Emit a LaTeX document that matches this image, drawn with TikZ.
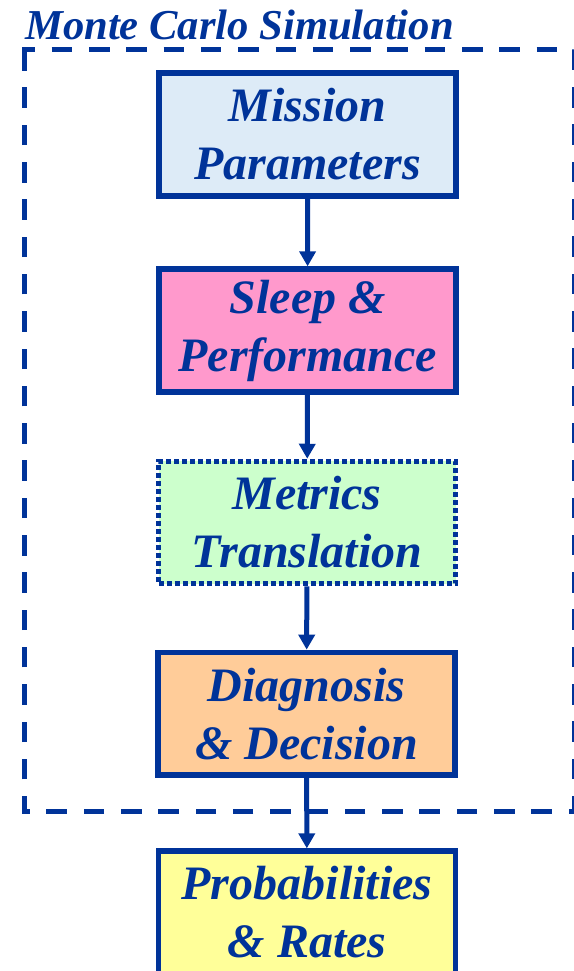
\documentclass[tikz,border=0pt]{standalone}
\usepackage{fontspec}
\setmainfont{Liberation Serif}
\usetikzlibrary{arrows.meta}
\definecolor{dblue}{RGB}{0,51,153}
\definecolor{fblue}{RGB}{221,235,247}
\definecolor{fpink}{RGB}{255,153,204}
\definecolor{fgreen}{RGB}{204,255,204}
\definecolor{forange}{RGB}{255,204,153}
\definecolor{fyellow}{RGB}{255,255,153}
\begin{document}
\begin{tikzpicture}[x=1pt,y=-1pt,
  stepbox/.style={draw=dblue, line width=5.8pt, minimum width=297pt, minimum height=122.5pt,
    inner sep=0pt, align=center, text=dblue,
    font=\fontsize{48}{58}\selectfont\bfseries\itshape},
  flow/.style={draw=dblue, line width=5pt, -{Triangle[width=16pt,length=15pt]}}]
\useasboundingbox (0,0) rectangle (573,971);
\draw[dblue, line width=5pt, dash pattern=on 20.5pt off 16.8pt]
  (24,59.6) -- (24,50) -- (574,50) -- (574,811) -- (24,811) -- cycle;
\node[anchor=base west, text=dblue, inner sep=0pt, font=\fontsize{42.6}{50}\selectfont\bfseries\itshape] (title) at (25,40) {Monte Carlo Simulation};
\node[stepbox, fill=fblue] (b1) at (307.4,134.5) {Mission\\Parameters};
\node[stepbox, fill=fpink] (b2) at (307.7,330.5) {Sleep \&\\Performance};
\node[stepbox, fill=fgreen, line width=5pt, dash pattern=on 5pt off 3pt] (b3) at (307,522.5) {Metrics\\Translation};
\node[stepbox, fill=forange] (b4) at (306.5,713.8) {Diagnosis\\\& Decision};
\node[stepbox, fill=fyellow] (b5) at (307,912.5) {Probabilities\\\& Rates};
\draw[flow] (b1) -- (b2);
\draw[flow] (b2) -- (b3);
\draw[flow] (b3) -- (b4);
\draw[flow] (b4) -- (b5);
\end{tikzpicture}
\end{document}
